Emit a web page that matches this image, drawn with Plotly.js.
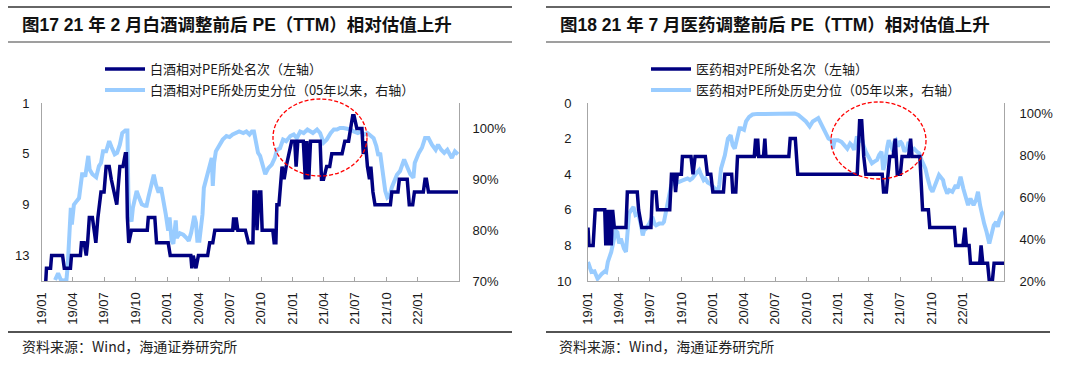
<!DOCTYPE html>
<html>
<head>
<meta charset="utf-8">
<script src="https://cdn.plot.ly/plotly-3.0.1.min.js"></script>
<style>html,body{margin:0;padding:0;background:#fff;}#chart{width:1080px;height:375px;}</style>
</head>
<body>
<div id="chart"></div>
<script>
// ---------------- DATA ----------------
const tickDates = ['2019-01-01','2019-04-01','2019-07-01','2019-10-01','2020-01-01','2020-04-01','2020-07-01','2020-10-01','2021-01-01','2021-04-01','2021-07-01','2021-10-01','2022-01-01'];
const tickLabels = ['19/01','19/04','19/07','19/10','20/01','20/04','20/07','20/10','21/01','21/04','21/07','21/10','22/01'];

// 白酒相对PE所处名次（左轴）
const baijiuRankDates = ['2019-01-12','2019-01-14','2019-01-26','2019-01-29','2019-03-02','2019-03-07','2019-03-25','2019-03-28','2019-04-23','2019-04-26','2019-05-04','2019-05-10','2019-05-14','2019-05-19','2019-05-28','2019-06-07','2019-06-13','2019-06-22','2019-07-01','2019-07-07','2019-07-16','2019-07-22','2019-08-07','2019-08-16','2019-08-25','2019-09-01','2019-09-04','2019-09-07','2019-09-11','2019-09-19','2019-11-04','2019-11-07','2019-11-26','2019-12-01','2020-01-04','2020-01-10','2020-03-10','2020-03-13','2020-03-17','2020-03-25','2020-04-01','2020-04-28','2020-05-04','2020-05-13','2020-05-19','2020-07-10','2020-07-13','2020-07-16','2020-07-20','2020-07-25','2020-08-16','2020-08-25','2020-09-07','2020-09-10','2020-09-14','2020-09-19','2020-09-25','2020-09-30','2020-10-04','2020-11-04','2020-11-08','2020-11-13','2020-11-16','2020-11-22','2020-12-01','2020-12-07','2020-12-13','2020-12-22','2020-12-29','2021-01-07','2021-01-11','2021-01-16','2021-02-01','2021-02-07','2021-02-11','2021-02-17','2021-02-22','2021-03-22','2021-03-26','2021-04-01','2021-04-10','2021-04-19','2021-04-25','2021-05-25','2021-06-02','2021-06-13','2021-06-19','2021-06-25','2021-06-29','2021-07-07','2021-07-22','2021-07-26','2021-08-01','2021-08-07','2021-08-13','2021-08-17','2021-08-23','2021-08-29','2021-10-13','2021-10-17','2021-11-04','2021-11-08','2021-12-01','2021-12-07','2021-12-17','2021-12-22','2022-01-17','2022-01-22','2022-01-26','2022-02-01','2022-04-28'];
const baijiuRank = [15,14,14,13,13,14,14,13,13,12,12,13,12,10,10,12,10,8,8,6,6,7,9,6,6,5,5,10,12,11,11,10,10,12,12,13,13,14,13,14,13,13,12,12,11,11,10,11,10,11,11,12,12,8,8,11,8,8,11,11,12,12,9,9,6,7,6,5,4,4,6,4,4,7,4,7,4,4,7,7,6,6,5,5,4,4,3,2,2,3,3,5,4,6,7,6,8,9,9,8,8,7,7,9,9,8,8,7,7,8,8];

// 白酒相对PE所处历史分位（05年以来，右轴）
const baijiuPctDates = ['2019-02-08','2019-02-17','2019-02-25','2019-03-13','2019-03-17','2019-03-22','2019-03-26','2019-03-29','2019-04-04','2019-04-13','2019-04-19','2019-04-28','2019-05-04','2019-05-07','2019-05-16','2019-05-20','2019-05-28','2019-06-08','2019-06-16','2019-06-22','2019-06-28','2019-07-07','2019-07-16','2019-07-23','2019-08-01','2019-08-08','2019-08-16','2019-08-23','2019-09-01','2019-09-07','2019-09-10','2019-09-14','2019-09-19','2019-09-23','2019-10-04','2019-10-11','2019-10-19','2019-10-28','2019-11-02','2019-11-07','2019-11-16','2019-11-23','2019-11-29','2019-12-07','2019-12-14','2019-12-20','2019-12-28','2020-01-04','2020-01-08','2020-01-14','2020-01-19','2020-01-26','2020-01-29','2020-02-07','2020-02-17','2020-02-26','2020-03-04','2020-03-11','2020-03-20','2020-03-25','2020-03-29','2020-04-04','2020-04-13','2020-04-17','2020-04-25','2020-05-04','2020-05-10','2020-05-13','2020-05-17','2020-05-22','2020-06-02','2020-06-11','2020-06-22','2020-07-01','2020-07-10','2020-07-20','2020-07-29','2020-08-10','2020-08-19','2020-08-28','2020-09-04','2020-09-10','2020-09-14','2020-09-22','2020-09-28','2020-10-07','2020-10-13','2020-10-22','2020-11-01','2020-11-10','2020-11-16','2020-11-25','2020-12-04','2020-12-13','2020-12-25','2021-01-04','2021-01-13','2021-01-23','2021-02-02','2021-02-13','2021-02-22','2021-03-01','2021-03-13','2021-03-22','2021-04-01','2021-04-10','2021-04-22','2021-05-01','2021-05-10','2021-05-19','2021-05-29','2021-06-10','2021-06-19','2021-06-28','2021-07-10','2021-07-19','2021-07-28','2021-08-07','2021-08-16','2021-08-25','2021-09-02','2021-09-08','2021-09-13','2021-09-20','2021-09-28','2021-10-04','2021-10-11','2021-10-17','2021-10-22','2021-11-01','2021-11-10','2021-11-22','2021-11-28','2021-12-05','2021-12-10','2021-12-19','2021-12-23','2022-01-04','2022-01-13','2022-01-22','2022-02-01','2022-02-11','2022-02-22','2022-03-01','2022-03-10','2022-03-19','2022-03-28','2022-04-10','2022-04-19','2022-04-28'];
const baijiuPct = [70.2,71.5,70.2,70.0,73.0,78.0,84.4,81.1,85.0,85.8,86.3,91.0,91.0,90.5,94.6,91.9,91.0,90.4,92.6,93.2,95.5,95.5,97.5,96.3,94.9,95.2,96.8,99.1,99.6,99.6,86.4,82.5,81.7,84.4,87.7,86.4,85.1,84.8,84.8,86.4,89.0,90.9,89.0,87.4,88.4,86.4,83.1,79.9,82.5,77.9,77.3,81.9,78.5,79.4,79.1,78.5,77.9,79.5,82.8,81.5,77.9,77.9,83.1,88.3,90.3,92.9,94.2,88.7,93.3,95.5,96.8,97.8,98.5,98.3,98.8,99.2,99.4,99.1,99.4,98.8,99.4,99.4,98.1,95.2,94.6,92.6,91.0,92.2,92.9,94.2,95.8,96.1,97.8,97.5,98.5,98.8,98.1,99.4,99.1,99.8,99.4,99.1,99.8,99.1,97.2,97.8,99.1,99.8,99.8,100.1,100.1,99.9,99.8,99.4,99.1,99.4,98.8,99.1,98.5,98.1,96.5,94.6,95.2,91.9,87.7,86.4,86.8,88.4,89.3,90.9,91.6,93.9,92.9,91.9,91.0,90.3,93.2,95.2,96.2,98.1,98.1,96.8,95.8,96.8,95.8,95.2,95.8,94.2,95.5,94.9];

// 医药相对PE所处名次（左轴）
const yiyaoRankDates = ['2019-01-01','2019-01-04','2019-01-16','2019-01-22','2019-02-19','2019-02-22','2019-02-26','2019-03-01','2019-03-05','2019-03-10','2019-03-14','2019-03-19','2019-04-22','2019-04-26','2019-05-25','2019-05-29','2019-06-07','2019-07-04','2019-07-08','2019-07-19','2019-07-23','2019-08-28','2019-09-02','2019-09-10','2019-09-14','2019-09-19','2019-10-01','2019-10-04','2019-10-29','2019-11-04','2019-11-10','2019-12-10','2019-12-16','2019-12-26','2020-01-01','2020-02-01','2020-02-05','2020-02-25','2020-02-28','2020-03-08','2020-03-13','2020-05-01','2020-05-05','2020-05-08','2020-05-11','2020-05-14','2020-05-28','2020-06-01','2020-06-04','2020-08-10','2020-08-14','2020-08-29','2020-09-05','2021-02-26','2021-03-05','2021-03-11','2021-03-17','2021-03-23','2021-05-10','2021-05-14','2021-05-22','2021-05-26','2021-06-01','2021-06-11','2021-06-17','2021-06-23','2021-07-02','2021-07-07','2021-07-26','2021-08-01','2021-08-05','2021-08-28','2021-09-05','2021-09-22','2021-09-26','2021-12-07','2021-12-11','2022-01-01','2022-01-07','2022-01-11','2022-01-19','2022-01-23','2022-02-19','2022-02-23','2022-02-28','2022-03-14','2022-03-19','2022-03-28','2022-04-02','2022-05-01'];
const yiyaoRank = [7,8,8,6,6,8,6,8,6,8,6,7,7,5,5,6,7,7,5,5,6,6,4,4,5,4,4,3,3,4,3,3,4,4,5,5,4,4,5,5,3,3,2,3,2,3,3,2,3,3,2,2,4,4,1,1,3,4,4,5,5,4,3,3,2,4,4,3,3,2,3,3,6,6,7,7,8,8,7,8,8,9,9,8,9,9,10,10,9,9];

// 医药相对PE所处历史分位（05年以来，右轴）
const yiyaoPctDates = ['2019-01-01','2019-01-11','2019-01-20','2019-01-29','2019-02-10','2019-02-19','2019-02-23','2019-02-28','2019-03-10','2019-03-19','2019-03-23','2019-03-28','2019-04-02','2019-04-07','2019-04-11','2019-04-16','2019-04-22','2019-04-26','2019-05-01','2019-05-07','2019-05-14','2019-05-20','2019-05-28','2019-06-05','2019-06-10','2019-06-14','2019-06-19','2019-06-29','2019-07-04','2019-07-08','2019-07-14','2019-07-19','2019-07-28','2019-08-07','2019-08-11','2019-08-16','2019-08-22','2019-08-26','2019-09-01','2019-09-11','2019-09-20','2019-10-01','2019-10-10','2019-10-19','2019-10-26','2019-11-02','2019-11-13','2019-11-22','2019-11-26','2019-12-05','2019-12-10','2019-12-17','2019-12-26','2020-01-05','2020-01-16','2020-01-20','2020-01-25','2020-02-05','2020-02-14','2020-02-22','2020-02-28','2020-03-05','2020-03-13','2020-03-19','2020-03-23','2020-04-01','2020-04-07','2020-04-16','2020-04-26','2020-05-10','2020-06-01','2020-06-16','2020-07-01','2020-07-16','2020-08-01','2020-08-16','2020-08-27','2020-09-07','2020-09-20','2020-09-29','2020-10-10','2020-10-19','2020-11-04','2020-11-13','2020-11-22','2020-12-04','2020-12-13','2020-12-17','2020-12-22','2021-01-01','2021-01-11','2021-01-20','2021-01-28','2021-02-05','2021-02-10','2021-02-17','2021-02-25','2021-02-28','2021-03-04','2021-03-10','2021-03-16','2021-03-23','2021-04-02','2021-04-10','2021-04-17','2021-04-25','2021-05-01','2021-05-08','2021-05-13','2021-05-17','2021-05-25','2021-05-29','2021-06-04','2021-06-11','2021-06-14','2021-06-19','2021-06-25','2021-07-01','2021-07-07','2021-07-14','2021-07-22','2021-07-26','2021-08-04','2021-08-11','2021-08-19','2021-08-26','2021-09-02','2021-09-13','2021-09-20','2021-09-28','2021-10-04','2021-10-10','2021-10-17','2021-10-23','2021-11-04','2021-11-07','2021-11-16','2021-11-22','2021-12-01','2021-12-11','2021-12-16','2021-12-25','2022-01-02','2022-01-10','2022-01-16','2022-01-23','2022-02-01','2022-02-08','2022-02-14','2022-02-20','2022-02-26','2022-03-04','2022-03-11','2022-03-19','2022-03-25','2022-04-01','2022-04-08','2022-04-13','2022-04-17','2022-04-25','2022-05-01'];
const yiyaoPct = [29.1,24.3,24.6,21.1,23.4,24.6,24.3,29.1,33.9,40.3,44.0,43.3,37.9,40.3,37.9,35.5,33.9,44.0,52.2,53.8,55.4,51.5,52.2,46.6,41.8,44.2,44.9,47.4,49.0,50.6,47.4,46.6,47.4,47.4,48.2,52.2,57.9,61.1,65.6,67.8,67.0,67.8,68.2,69.0,68.2,69.0,71.4,73.0,71.4,68.2,69.0,67.0,66.2,64.2,62.6,66.2,73.8,80.0,88.0,89.6,84.8,83.2,89.6,93.0,93.0,92.2,96.2,98.4,99.5,99.8,99.7,99.8,99.6,99.7,99.8,99.9,100.0,99.3,97.8,96.2,93.8,96.2,97.8,94.6,91.2,88.0,87.2,83.2,87.2,87.2,86.4,84.8,83.2,85.6,84.8,82.6,89.0,88.0,86.4,89.6,84.8,81.8,78.6,76.2,77.0,77.8,80.2,81.8,73.0,75.4,84.2,87.2,84.8,81.8,86.4,87.2,84.2,86.8,85.6,81.8,83.4,86.4,82.6,83.2,81.8,81.0,77.8,73.8,69.0,64.2,62.6,65.0,69.0,70.6,68.2,65.8,61.8,63.4,62.6,65.8,64.2,69.8,64.2,59.4,56.2,59.4,56.2,58.6,62.6,56.2,51.4,47.4,43.5,37.9,41.8,46.6,48.2,45.8,49.0,52.2,53.0];

const rankTicks1 = [1,5,9,13];
const pctTicks1 = [70,80,90,100];
const pctLabels1 = ['70%','80%','90%','100%'];
const rankTicks2 = [0,2,4,6,8,10];
const pctTicks2 = [20,40,60,80,100];
const pctLabels2 = ['20%','40%','60%','80%','100%'];

// ---------------- STYLE / LAYOUT ----------------
const W = 1080, H = 375;
const px = v => v / W;
const py = v => 1 - v / H;
const FONT = 'Liberation Sans, Arial, "Noto Sans CJK SC", sans-serif';
const CJK = '"Noto Sans CJK SC", "Liberation Sans", sans-serif';
const DARK = '#000080', LIGHT = '#99CCFF';
const AX = '#A6A6A6';
const xRange = ['2019-01-01', '2022-05-01'];
const plotTop = 103, plotBottom = 281;

function xAxis(x0, x1, anchor) {
  return {domain: [px(x0), px(x1)], anchor: anchor, type: 'date', range: xRange,
    tickmode: 'array', tickvals: tickDates, ticktext: tickLabels, tickangle: -90,
    ticks: 'inside', ticklen: 4, tickcolor: AX, showline: true, linecolor: AX, linewidth: 1,
    showgrid: false, zeroline: false, tickfont: {family: FONT, size: 13, color: '#1a1a1a'},
    ticklabelstandoff: 5, fixedrange: true};
}
function yAxis(opts) {
  return Object.assign({showline: true, linecolor: AX, linewidth: 1, ticks: '', showgrid: false,
    zeroline: false, tickmode: 'array', tickfont: {family: FONT, size: 13, color: '#1a1a1a'},
    fixedrange: true}, opts);
}

const traces = [
  {x: baijiuPctDates, y: baijiuPct, xaxis: 'x', yaxis: 'y', type: 'scatter', mode: 'lines',
   name: '白酒相对PE所处历史分位（05年以来，右轴）', line: {color: LIGHT, width: 4}, legend: 'legend2'},
  {x: baijiuRankDates, y: baijiuRank, xaxis: 'x', yaxis: 'y2', type: 'scatter', mode: 'lines',
   name: '白酒相对PE所处名次（左轴）', line: {color: DARK, width: 3.5}, legend: 'legend'},
  {x: yiyaoPctDates, y: yiyaoPct, xaxis: 'x2', yaxis: 'y3', type: 'scatter', mode: 'lines',
   name: '医药相对PE所处历史分位（05年以来，右轴）', line: {color: LIGHT, width: 4}, legend: 'legend4'},
  {x: yiyaoRankDates, y: yiyaoRank, xaxis: 'x2', yaxis: 'y4', type: 'scatter', mode: 'lines',
   name: '医药相对PE所处名次（左轴）', line: {color: DARK, width: 3.5}, legend: 'legend3'}
];

function legendAt(x, y) {
  return {x: px(x), y: py(y), xanchor: 'left', yanchor: 'middle', bgcolor: 'rgba(0,0,0,0)',
    borderwidth: 0, font: {family: CJK, size: 13, color: '#1a1a1a'}, itemwidth: 40};
}

const yDom = [py(plotBottom), py(plotTop)];

const layout = {
  width: W, height: H, margin: {l: 0, r: 0, t: 0, b: 0}, paper_bgcolor: '#fff', plot_bgcolor: 'rgba(0,0,0,0)',
  showlegend: true,
  xaxis: xAxis(42, 459, 'y'),
  xaxis2: xAxis(588, 1004, 'y3'),
  yaxis: yAxis({domain: yDom, anchor: 'x', side: 'right', range: [70, 105], tickvals: pctTicks1, ticktext: pctLabels1, ticklabelstandoff: 10}),
  yaxis2: yAxis({overlaying: 'y', anchor: 'x', side: 'left', range: [15, 1], tickvals: rankTicks1, ticklabelstandoff: 9}),
  yaxis3: yAxis({domain: yDom, anchor: 'x2', side: 'right', range: [20, 105], tickvals: pctTicks2, ticktext: pctLabels2, ticklabelstandoff: 12}),
  yaxis4: yAxis({overlaying: 'y3', anchor: 'x2', side: 'left', range: [10, 0], tickvals: rankTicks2, ticklabelstandoff: 13}),
  legend: legendAt(100, 69),
  legend2: legendAt(100, 90),
  legend3: legendAt(646, 69),
  legend4: legendAt(646, 90),
  shapes: [
    // header / footer rules
    {type: 'line', xref: 'paper', yref: 'paper', x0: px(8), x1: px(512), y0: py(7), y1: py(7), line: {color: '#333', width: 1.5}},
    {type: 'line', xref: 'paper', yref: 'paper', x0: px(8), x1: px(512), y0: py(42), y1: py(42), line: {color: '#7f7f7f', width: 1.5}},
    {type: 'line', xref: 'paper', yref: 'paper', x0: px(8), x1: px(512), y0: py(332), y1: py(332), line: {color: '#1a1a1a', width: 1.5}},
    {type: 'line', xref: 'paper', yref: 'paper', x0: px(546), x1: px(1050), y0: py(7), y1: py(7), line: {color: '#333', width: 1.5}},
    {type: 'line', xref: 'paper', yref: 'paper', x0: px(546), x1: px(1050), y0: py(42), y1: py(42), line: {color: '#7f7f7f', width: 1.5}},
    {type: 'line', xref: 'paper', yref: 'paper', x0: px(546), x1: px(1050), y0: py(332), y1: py(332), line: {color: '#1a1a1a', width: 1.5}},
    // highlight ellipses
    {type: 'circle', xref: 'paper', yref: 'paper', x0: px(273), x1: px(367), y0: py(176), y1: py(99), line: {color: '#FF0000', width: 1.3, dash: '4px,2px'}},
    {type: 'circle', xref: 'paper', yref: 'paper', x0: px(831), x1: px(926), y0: py(179), y1: py(102), line: {color: '#FF0000', width: 1.3, dash: '4px,2px'}}
  ],
  annotations: [
    {xref: 'paper', yref: 'paper', x: px(20), y: py(25), xanchor: 'left', yanchor: 'middle', showarrow: false,
     text: '<b>图17 21 年 2 月白酒调整前后 PE（TTM）相对估值上升</b>', font: {family: FONT, size: 17.5, color: '#111'}},
    {xref: 'paper', yref: 'paper', x: px(558), y: py(25), xanchor: 'left', yanchor: 'middle', showarrow: false,
     text: '<b>图18 21 年 7 月医药调整前后 PE（TTM）相对估值上升</b>', font: {family: FONT, size: 17.5, color: '#111'}},
    {xref: 'paper', yref: 'paper', x: px(20), y: py(346), xanchor: 'left', yanchor: 'middle', showarrow: false,
     text: '资料来源：Wind，海通证券研究所', font: {family: CJK, size: 14, color: '#222'}},
    {xref: 'paper', yref: 'paper', x: px(557), y: py(346), xanchor: 'left', yanchor: 'middle', showarrow: false,
     text: '资料来源：Wind，海通证券研究所', font: {family: CJK, size: 14, color: '#222'}}
  ]
};

Plotly.newPlot('chart', traces, layout, {displayModeBar: false, staticPlot: true});
</script>
</body>
</html>
